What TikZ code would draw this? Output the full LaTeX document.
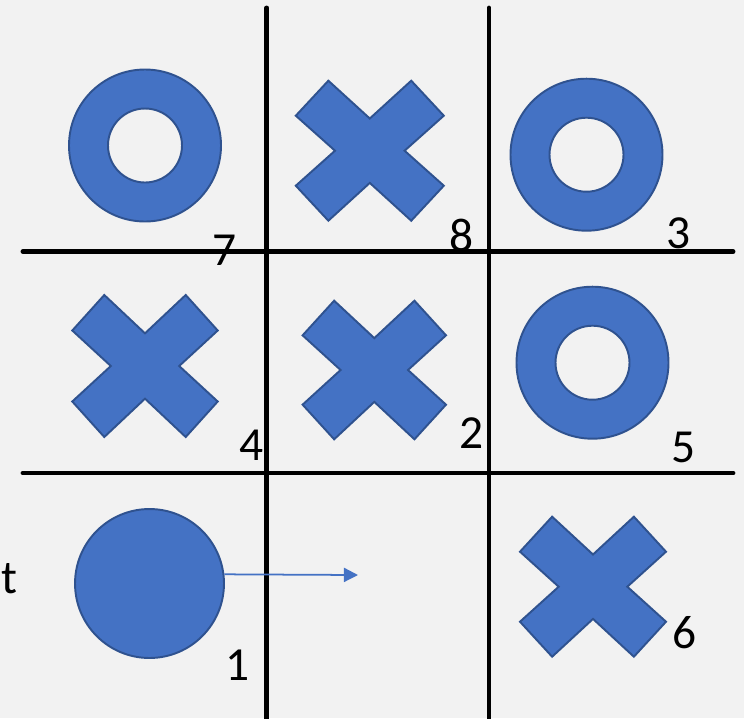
\documentclass[tikz,border=0pt]{standalone}
\usepackage{fontspec}
\setmainfont{Carlito}
\usetikzlibrary{arrows.meta}
\definecolor{markfill}{HTML}{4472C4}
\definecolor{markedge}{HTML}{2F528F}
\definecolor{paper}{HTML}{F2F2F2}
\tikzset{
  gridline/.style={line width=2.8pt, line cap=round},
  markshape/.style={fill=markfill, draw=markedge, line width=1.1pt},
  cellno/.style={anchor=base, inner sep=0pt, font=\fontsize{27}{30}\selectfont},
}
\begin{document}
\begin{tikzpicture}[x=0.02cm, y=-0.02cm]
    \fill[paper] (0,0) rectangle (744,718);
    \useasboundingbox (0,0) rectangle (744,718);
    % board
    \draw[gridline] (266.7,8) -- (266.7,730);
    \draw[gridline] (489,8) -- (489,730);
    \draw[gridline] (23,251.5) -- (733,251.5);
    \draw[gridline] (23,473) -- (733,473);
    % crosses
    \foreach \cx/\cy/\w/\h in {369.8/150.7/74/70, 145/366/72.7/71, 374.3/370/71.7/69.3, 593/586.7/73/70}
      \draw[markshape, shift={(\cx,\cy)}] (-0.56*\w,-\h) -- (0,-0.46*\h) -- (0.56*\w,-\h) -- (\w,-0.5*\h)
        -- (0.47*\w,0) -- (\w,0.5*\h) -- (0.56*\w,\h) -- (0,0.46*\h) -- (-0.56*\w,\h)
        -- (-\w,0.5*\h) -- (-0.47*\w,0) -- (-\w,-0.5*\h) -- cycle;
    % rings
    \foreach \cx/\cy in {145/145.5, 586.5/154.7, 592.5/362.7}
      \draw[markshape, even odd rule] (\cx,\cy) circle[radius=76] (\cx,\cy) circle[radius=37];
    % moving disc
    \node[markshape, circle, minimum size=2.98cm, inner sep=0pt] (disc) at (149.5,583.5) {};
    \coordinate (discgoal) at (358,575);
    \draw[-{Triangle[length=8pt,width=8pt]}, markfill, line width=1pt] (disc.7) -- (discgoal);
    % cell numbers
    \node[cellno] (no7) at (225,265) {7};
    \node[cellno] (no8) at (461.7,251.7) {8};
    \node[cellno] (no3) at (679,248) {3};
    \node[cellno] (no4) at (251.7,460.5) {4};
    \node[cellno] (no2) at (472,448) {2};
    \node[cellno] (no5) at (684,462) {5};
    \node[cellno] (no1) at (238,680.7) {1};
    \node[cellno] (no6) at (684.5,648) {6};
    \node[cellno] (lblt) at (9,593) {t};
\end{tikzpicture}
\end{document}
